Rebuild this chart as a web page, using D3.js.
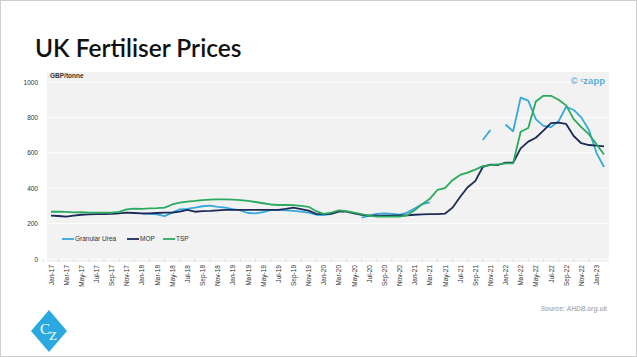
<!DOCTYPE html>
<html>
<head>
<meta charset="utf-8">
<script src="https://cdn.jsdelivr.net/npm/d3@7"></script>
<style>
  html, body { margin: 0; padding: 0; background: #fff; }
  svg { display: block; }
  text { font-family: "Liberation Sans", Arial, sans-serif; }
</style>
</head>
<body>
<svg id="chart" width="637" height="357"></svg>
<script>
// ---- Data (GBP/tonne, monthly Jan-17 .. Feb-23) ----
const months = [
  "Jan-17","Feb-17","Mar-17","Apr-17","May-17","Jun-17","Jul-17","Aug-17","Sep-17","Oct-17","Nov-17","Dec-17",
  "Jan-18","Feb-18","Mar-18","Apr-18","May-18","Jun-18","Jul-18","Aug-18","Sep-18","Oct-18","Nov-18","Dec-18",
  "Jan-19","Feb-19","Mar-19","Apr-19","May-19","Jun-19","Jul-19","Aug-19","Sep-19","Oct-19","Nov-19","Dec-19",
  "Jan-20","Feb-20","Mar-20","Apr-20","May-20","Jun-20","Jul-20","Aug-20","Sep-20","Oct-20","Nov-20","Dec-20",
  "Jan-21","Feb-21","Mar-21","Apr-21","May-21","Jun-21","Jul-21","Aug-21","Sep-21","Oct-21","Nov-21","Dec-21",
  "Jan-22","Feb-22","Mar-22","Apr-22","May-22","Jun-22","Jul-22","Aug-22","Sep-22","Oct-22","Nov-22","Dec-22",
  "Jan-23","Feb-23"
];

const granularUrea = [
  null, null, null, null, null, null, null, null, null, null, null, null,
  255, 255, 252, 242, 262, 280, 283, 290, 298, 302, 295, 290,
  282, 275, 260, 258, 265, 276, 278, 275, 272, 268, 262, 250,
  248, 255, null, null, null, 234, 245, 255, 258, 255, 250, 262,
  285, 310, 320, null, null, null, null, null, null, 672, 729, null,
  760, 722, 912, 895, 790, 752, 745, 778, 860, 842, 800, 730,
  600, 520
];

const mop = [
  245, 243, 239, 245, 250, 252, 253, 254, 255, 258, 262, 260,
  258, 258, 260, 262, 262, 268, 277, 267, 270, 272, 275, 277,
  277, 277, 277, 277, 277, 277, 278, 283, 290, 282, 273, 255,
  253, 255, 268, 268, 258, 250, 245, 245, 245, 245, 246, 247,
  250, 252, 253, 254, 256, 290, 350, 405, 440, 520, 533, 531,
  544, 544, 625, 663, 685, 725, 768, 770, 763, 695, 654, 644,
  640, 636
];

const tsp = [
  267, 267, 266, 263, 265, 262, 262, 262, 262, 266, 280, 285,
  283, 286, 287, 290, 308, 318, 324, 328, 333, 335, 337, 337,
  336, 333, 328, 322, 315, 308, 305, 305, 304, 300, 295, 270,
  255, 262, 275, 270, 262, 253, 245, 240, 239, 239, 240, 247,
  275, 310, 340, 390, 400, 445, 475, 488, 505, 525, 530, 535,
  540, 541, 719, 740, 890, 922, 922, 900, 868, 790, 745, 705,
  650, 590
];

const seriesNames = ["Granular Urea", "MOP", "TSP"];
const seriesColors = ["#35a9df", "#1c2a57", "#2aaa5e"];
const yTicks = [0, 200, 400, 600, 800, 1000];
const xTickLabels = months.filter((m, i) => i % 2 === 0);

// ---- Layout ----
const W = 637, H = 357;
const plot = { left: 47, right: 609, top: 72, bottom: 262 };

const svg = d3.select("#chart");

// frame
svg.append("rect").attr("x", 0.5).attr("y", 0.5).attr("width", W - 1).attr("height", H - 1)
  .attr("fill", "#fff").attr("stroke", "#cfcfcf");

// title
svg.append("text").attr("x", 35).attr("y", 57)
  .style("font-family", "Lato, 'Open Sans', sans-serif")
  .attr("font-weight", 600).attr("font-size", 24.5).attr("fill", "#111")
  .text("UK Fertiliser Prices");

// plot background
svg.append("rect").attr("x", plot.left).attr("y", plot.top)
  .attr("width", plot.right - plot.left).attr("height", plot.bottom - plot.top)
  .attr("fill", "#f2f2f2");

const x = d3.scalePoint().domain(months).range([51, 604]);
const y = d3.scaleLinear().domain([0, 1000]).range([259, 82]);

// gridlines
svg.append("g").selectAll("line").data(yTicks).join("line")
  .attr("x1", plot.left).attr("x2", plot.right)
  .attr("y1", d => y(d)).attr("y2", d => y(d))
  .attr("stroke", "#ffffff").attr("stroke-width", 1);

// y axis
const yAxis = svg.append("g").attr("transform", "translate(41,0)")
  .call(d3.axisLeft(y).tickValues(yTicks).tickSize(0).tickPadding(3).tickFormat(d3.format("d")));
yAxis.select(".domain").remove();
yAxis.selectAll("text").attr("font-size", 6.5).attr("fill", "#333").style("font-family", "'Liberation Sans', Arial, sans-serif");

// unit label
svg.append("text").attr("x", 50).attr("y", 78).attr("font-size", 6.5).attr("font-weight", 700)
  .attr("fill", "#333").text("GBP/tonne");

// x axis
const xAxis = svg.append("g").attr("transform", `translate(0,${plot.bottom})`)
  .call(d3.axisBottom(x).tickValues(xTickLabels).tickSize(0));
xAxis.select(".domain").remove();
xAxis.selectAll("text")
  .attr("transform", "rotate(-90)")
  .attr("x", -3).attr("y", 0).attr("dy", "0.32em")
  .style("text-anchor", "end")
  .attr("font-size", 6.5).attr("fill", "#333")
  .style("font-family", "'Liberation Sans', Arial, sans-serif");

// faint tick marks between labels
const step = x.step();
svg.append("g").selectAll("line").data(xTickLabels).join("line")
  .attr("x1", d => x(d) - step).attr("x2", d => x(d) - step)
  .attr("y1", plot.bottom - 3).attr("y2", plot.bottom)
  .attr("stroke", "#d4d4d4").attr("stroke-width", 0.8);

// lines
const allSeries = [granularUrea, mop, tsp];
const line = d3.line()
  .defined(d => d.v != null)
  .x(d => x(d.m))
  .y(d => y(d.v));

svg.append("g").selectAll("path").data(allSeries).join("path")
  .attr("d", s => line(s.map((v, i) => ({ m: months[i], v }))))
  .attr("fill", "none")
  .attr("stroke", (s, i) => seriesColors[i])
  .attr("stroke-width", 1.8)
  .attr("stroke-linejoin", "round");

// legend
const legendPos = [62, 127, 163];
const lg = svg.append("g").selectAll("g").data(seriesNames).join("g")
  .attr("transform", (d, i) => `translate(${legendPos[i]},239)`);
lg.append("line").attr("x1", 0).attr("x2", 12).attr("y1", 0).attr("y2", 0)
  .attr("stroke", (d, i) => seriesColors[i]).attr("stroke-width", 1.8);
lg.append("text").attr("x", 13).attr("y", 2.3).attr("font-size", 6.5).attr("fill", "#333").text(d => d);

// watermark
const wm = svg.append("text").attr("x", 605).attr("y", 84).attr("text-anchor", "end")
  .attr("font-size", 9.5).attr("font-weight", 700).attr("fill", "#5aaedb");
wm.append("tspan").text("\u00A9 ");
wm.append("tspan").attr("font-size", 5.5).attr("dy", -2).text("c");
wm.append("tspan").attr("dy", 2).text("zapp");

// source
svg.append("text").attr("x", 607).attr("y", 311).attr("text-anchor", "end")
  .attr("font-size", 6.5).attr("font-weight", 700).attr("font-style", "italic")
  .attr("fill", "#b3b3b3").text("Source: AHDB.org.uk");

// logo
const lx = 49, ly = 331;
svg.append("path").attr("d", `M${lx},${ly - 21} L${lx + 18},${ly} L${lx},${ly + 21} L${lx - 18},${ly} Z`)
  .attr("fill", "#2aa9e0");
svg.append("text").attr("x", lx - 4).attr("y", ly + 3).attr("text-anchor", "middle")
  .style("font-family", "'Liberation Serif', serif")
  .attr("font-size", 15).attr("fill", "#fff").text("C");
svg.append("text").attr("x", lx + 4).attr("y", ly + 9).attr("text-anchor", "middle")
  .style("font-family", "'Liberation Serif', serif")
  .attr("font-size", 13).attr("fill", "#fff").text("Z");
</script>
</body>
</html>
